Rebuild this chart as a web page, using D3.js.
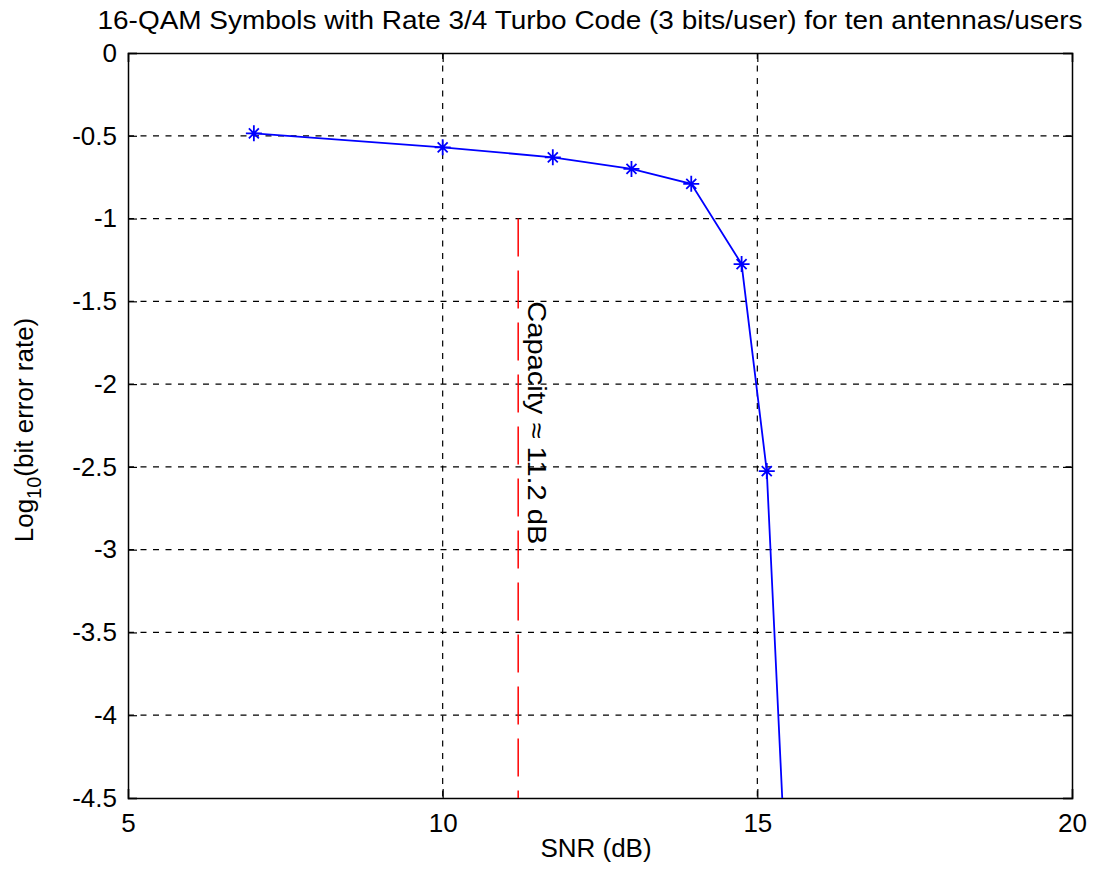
<!DOCTYPE html>
<html>
<head>
<meta charset="utf-8">
<script src="https://cdn.jsdelivr.net/npm/d3@7"></script>
<style>
  body { margin: 0; background: #fff; }
  text { font-family: "Liberation Sans", Arial, sans-serif; fill: #000; }
</style>
</head>
<body>
<div id="chart"></div>
<script>
// values
const snr = [7, 10, 11.75, 13, 13.95, 14.75, 15.15, 15.5];
const logBer = [-0.485, -0.57, -0.63, -0.70, -0.79, -1.275, -2.525, -5.34];
const capacitySnr = 11.2;
const capacityRange = [-1, -4.5];
const xTicks = [5, 10, 15, 20];
const yTicks = [0, -0.5, -1, -1.5, -2, -2.5, -3, -3.5, -4, -4.5];

const titleText = "16-QAM Symbols with Rate 3/4 Turbo Code (3 bits/user) for ten antennas/users";

// set the dimensions and margins of the graph
var margin = { top: 53, right: 23, bottom: 76, left: 128 },
    width = 1095 - margin.left - margin.right,
    height = 874 - margin.top - margin.bottom;

var svg = d3.select("#chart")
    .append("svg")
    .attr("width", 1095)
    .attr("height", 874)
    .append("g")
    .attr("transform", "translate(" + margin.left + "," + margin.top + ")");

var x = d3.scaleLinear().domain([5, 20]).range([0, width]);
var y = d3.scaleLinear().domain([-4.5, 0]).range([height, 0]);

svg.append("clipPath").attr("id", "clip")
    .append("rect").attr("width", width).attr("height", height);

// grid
const grid = svg.append("g").attr("id", "grid");
grid.selectAll("line.gx").data(xTicks.slice(1, -1)).enter().append("line")
    .attr("x1", d => x(d)).attr("x2", d => x(d))
    .attr("y1", 0).attr("y2", height)
    .attr("stroke", "#000").attr("stroke-width", 1.2)
    .attr("stroke-dasharray", "6,6.5");
grid.selectAll("line.gy").data(yTicks.slice(1, -1)).enter().append("line")
    .attr("y1", d => y(d)).attr("y2", d => y(d))
    .attr("x1", 0).attr("x2", width)
    .attr("stroke", "#000").attr("stroke-width", 1.2)
    .attr("stroke-dasharray", "6,6.5");

// plain hyphen for negatives, like the original
const fmt = d => String(d);

// axes with inward ticks on all four sides
const tickLen = 9;
const xAxisB = d3.axisBottom(x).tickValues(xTicks).tickSize(-tickLen).tickPadding(15.5).tickFormat(fmt);
const xAxisT = d3.axisTop(x).tickValues(xTicks).tickSize(-tickLen).tickFormat("");
const yAxisL = d3.axisLeft(y).tickValues(yTicks).tickSize(-tickLen).tickPadding(11).tickFormat(fmt);
const yAxisR = d3.axisRight(y).tickValues(yTicks).tickSize(-tickLen).tickFormat("");

function styleAxis(g) {
    g.selectAll("path.domain").attr("stroke", "#000").attr("stroke-width", 1.5);
    g.selectAll(".tick line").attr("stroke", "#000").attr("stroke-width", 1.2);
    g.selectAll("text").style("font-family", "'Liberation Sans', Arial, sans-serif")
        .style("font-size", "26px").attr("fill", "#000");
}
svg.append("g").attr("transform", "translate(0," + height + ")").call(xAxisB).call(styleAxis);
svg.append("g").call(xAxisT).call(styleAxis);
svg.append("g").call(yAxisL).call(styleAxis);
svg.append("g").attr("transform", "translate(" + width + ",0)").call(yAxisR).call(styleAxis);

// capacity line
svg.append("line")
    .attr("x1", x(capacitySnr)).attr("x2", x(capacitySnr))
    .attr("y1", y(capacityRange[0])).attr("y2", y(capacityRange[1]))
    .attr("stroke", "#ff0000").attr("stroke-width", 1.5)
    .attr("stroke-dasharray", "38,14");

svg.append("text")
    .attr("transform", "translate(" + (x(capacitySnr) + 10) + "," + y(-1.5) + ") rotate(90)")
    .attr("text-anchor", "start")
    .style("font-size", "26px")
    .attr("textLength", 243).attr("lengthAdjust", "spacingAndGlyphs")
    .text("Capacity \u2248 11.2 dB");

// BER curve
const data = snr.map((s, i) => ({ snr: s, ber: logBer[i] }));
const plot = svg.append("g").attr("clip-path", "url(#clip)");
plot.append("path").datum(data)
    .attr("fill", "none")
    .attr("stroke", "#0000ff").attr("stroke-width", 1.8)
    .attr("d", d3.line().x(d => x(d.snr)).y(d => y(d.ber)));

const star = "M-8,0L8,0M0,-8L0,8M-5,-5L5,5M-5,5L5,-5";
plot.selectAll("path.marker").data(data).enter().append("path")
    .attr("class", "marker")
    .attr("transform", d => "translate(" + x(d.snr) + "," + y(d.ber) + ")")
    .attr("d", star)
    .attr("stroke", "#0000ff").attr("stroke-width", 1.8).attr("fill", "none");

// title and labels
svg.append("text")
    .attr("x", 590 - margin.left).attr("y", 29 - margin.top)
    .attr("text-anchor", "middle")
    .style("font-size", "26px")
    .attr("textLength", 985).attr("lengthAdjust", "spacingAndGlyphs")
    .text(titleText);

svg.append("text")
    .attr("x", 596 - margin.left).attr("y", 857 - margin.top)
    .attr("text-anchor", "middle")
    .style("font-size", "26px")
    .text("SNR (dB)");

const ylab = svg.append("text")
    .attr("transform", "translate(" + (33 - margin.left) + "," + (430 - margin.top) + ") rotate(-90)")
    .attr("text-anchor", "middle")
    .style("font-size", "26px");
ylab.append("tspan").text("Log");
ylab.append("tspan").attr("dy", 8).style("font-size", "20px").text("10");
ylab.append("tspan").attr("dy", -8).text("(bit error rate)");
</script>
</body>
</html>
